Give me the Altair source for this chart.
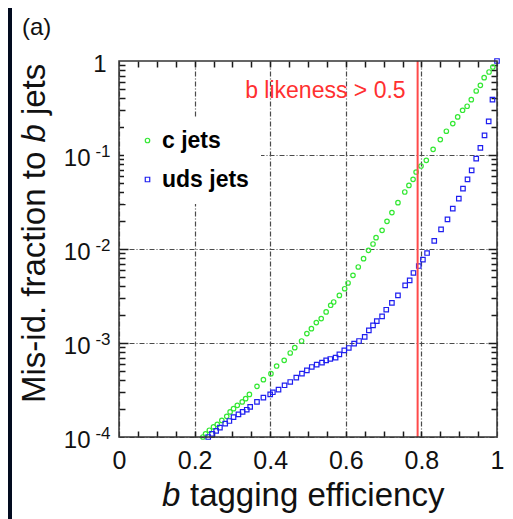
import altair as alt
import pandas as pd

# ---------------- data ----------------
c_eff = [0.222, 0.229, 0.239, 0.250, 0.260, 0.272, 0.285, 0.294, 0.303, 0.313,
         0.326, 0.335, 0.345, 0.365, 0.382, 0.402, 0.417, 0.437, 0.453, 0.465,
         0.483, 0.497, 0.509, 0.522, 0.535, 0.548, 0.560, 0.568, 0.583, 0.597,
         0.606, 0.619, 0.633, 0.647, 0.660, 0.672, 0.680, 0.696, 0.709, 0.722,
         0.738, 0.756, 0.767, 0.778, 0.786, 0.799, 0.813, 0.831, 0.850, 0.866,
         0.883, 0.896, 0.909, 0.921, 0.932, 0.945, 0.956, 0.966, 0.979, 0.989]
c_mis = [0.0001, 0.000108, 0.000118, 0.000128, 0.000136, 0.00015, 0.000166, 0.000185, 0.0002, 0.000217,
         0.000236, 0.000256, 0.000284, 0.000346, 0.000407, 0.000472, 0.000569, 0.000654, 0.000783, 0.000892,
         0.00105, 0.00126, 0.00142, 0.00165, 0.00182, 0.00214, 0.00252, 0.00273, 0.00321, 0.00378,
         0.00435, 0.00525, 0.00644, 0.00789, 0.00968, 0.0113, 0.0132, 0.0158, 0.0197, 0.0244,
         0.0311, 0.0404, 0.0475, 0.0551, 0.0659, 0.0764, 0.0878, 0.115, 0.146, 0.179,
         0.216, 0.254, 0.299, 0.33, 0.388, 0.48, 0.551, 0.665, 0.764, 0.863]

uds_eff = [0.236, 0.246, 0.257, 0.267, 0.281, 0.292, 0.303, 0.316, 0.327, 0.338,
           0.347, 0.365, 0.382, 0.400, 0.407, 0.422, 0.438, 0.453, 0.469, 0.484,
           0.497, 0.510, 0.523, 0.537, 0.548, 0.559, 0.573, 0.583, 0.596, 0.608,
           0.622, 0.635, 0.650, 0.661, 0.672, 0.682, 0.696, 0.707, 0.722, 0.738,
           0.757, 0.769, 0.779, 0.793, 0.804, 0.815, 0.834, 0.852, 0.869, 0.883,
           0.899, 0.910, 0.922, 0.933, 0.945, 0.956, 0.967, 0.978, 0.988, 1.0]
uds_mis = [0.0001, 0.000108, 0.000116, 0.000126, 0.000139, 0.000148, 0.000163, 0.000174, 0.000185, 0.000195,
           0.000209, 0.000236, 0.000262, 0.000284, 0.000299, 0.000319, 0.000355, 0.000385, 0.000428, 0.000472,
           0.000512, 0.000556, 0.000589, 0.000618, 0.000654, 0.000676, 0.000698, 0.000757, 0.000836, 0.000885,
           0.000984, 0.00105, 0.00116, 0.00136, 0.00154, 0.00171, 0.00192, 0.00226, 0.00267, 0.00321,
           0.00411, 0.00464, 0.00556, 0.00659, 0.0077, 0.00906, 0.0122, 0.0162, 0.0207, 0.0269,
           0.0343, 0.0438, 0.0551, 0.0687, 0.0914, 0.119, 0.162, 0.228, 0.388, 1.0]

series_names = ["c jets", "uds jets"]
series_colors = ["#33e833", "#1f1ff0"]
series_shapes = ["circle", "square"]

cut_eff = [0.79]
cut_label = ["b likeness > 0.5"]
panel_label = ["(a)"]

x_major = [0, 0.2, 0.4, 0.6, 0.8, 1]
x_minor = [round(i * 0.05, 2) for i in range(1, 20)]
y_decades = [0.1, 0.01, 0.001]
y_minor = [k * 10.0 ** e for e in (-4, -3, -2, -1) for k in range(2, 10)]

# ---------------- layout constants ----------------
W, H = 378, 376
FONT = "Liberation Sans"
INK = "#111111"
GRID = "#4a4a4a"
TICK = "#1a1a1a"

df = pd.DataFrame({
    "eff": c_eff + uds_eff,
    "mis": c_mis + uds_mis,
    "series": [series_names[0]] * len(c_eff) + [series_names[1]] * len(uds_eff),
})
df_c = df[df.series == series_names[0]]

xs = alt.Scale(domain=[0, 1], nice=False, zero=False)
ys = alt.Scale(type="log", domain=[0.0001, 1], nice=False)

ax_x_labels = alt.Axis(orient="bottom", values=x_major, format="~g", labelFontSize=25,
                       labelFont=FONT, labelColor=INK, labelPadding=11, labelBaseline="top",
                       labelFlush=False, labelOverlap=False, ticks=False, tickSize=0,
                       domain=False, grid=True, gridColor=GRID, gridDash=[5, 2, 1, 2],
                       gridWidth=1.2, title=None)
ax_y_exp = alt.Axis(orient="left", values=[0.1, 0.01, 0.001, 0.0001],
                    labelExpr="'-' + format(round(-log(datum.value) / LN10), 'd')",
                    labelFontSize=17, labelFont=FONT, labelColor=INK, labelPadding=9,
                    labelOffset=-4, labelBaseline="middle", labelAlign="right",
                    labelOverlap=False, labelFlush=False, ticks=False, tickSize=0,
                    domain=False, grid=True, gridColor=GRID, gridDash=[5, 2, 1, 2],
                    gridWidth=1.2, title=None)
ax_y_ten = alt.Axis(orient="left", values=[0.1, 0.01, 0.001, 0.0001], labelExpr="'10'",
                    labelFontSize=24, labelFont=FONT, labelColor=INK, labelPadding=29,
                    labelOffset=3, labelBaseline="middle", labelAlign="right",
                    labelOverlap=False, labelFlush=False, ticks=False, tickSize=0,
                    domain=False, grid=False, title=None)
ax_y_one = alt.Axis(orient="left", values=[1], labelExpr="'1'",
                    labelFontSize=24, labelFont=FONT, labelColor=INK, labelPadding=13,
                    labelOffset=3, labelBaseline="middle", labelAlign="right",
                    labelOverlap=False, labelFlush=False, ticks=False, tickSize=0,
                    domain=False, grid=False, title=None)


def tick_axis(orient, values, length):
    # inward ticks drawn as the first few pixels of a dashed grid line that
    # starts at the axis edge
    return alt.Axis(orient=orient, values=values, labels=False, ticks=False, domain=False,
                    grid=True, gridColor=TICK, gridWidth=1.5, gridDash=[length, 3000],
                    gridOpacity=1, title=None)


legend_kw = dict(title=None, orient="none", legendX=5, legendY=56, fillColor="white",
                 padding=12, labelFont=FONT, labelFontSize=23, labelFontWeight="bold",
                 labelColor="black", symbolSize=20, symbolStrokeWidth=1.2,
                 rowPadding=15, labelOffset=3)

points = alt.Chart(df).mark_point(filled=False, size=20, strokeWidth=1.2, opacity=1).encode(
    x=alt.X("eff:Q", scale=xs, axis=ax_x_labels),
    y=alt.Y("mis:Q", scale=ys, axis=ax_y_exp),
    color=alt.Color("series:N", scale=alt.Scale(domain=series_names, range=series_colors),
                    legend=alt.Legend(**legend_kw)),
    shape=alt.Shape("series:N", scale=alt.Scale(domain=series_names, range=series_shapes),
                    legend=alt.Legend(**legend_kw)),
)


def ghost(xaxis, yaxis):
    return alt.Chart(df_c).mark_point(opacity=0, size=1).encode(
        x=alt.X("eff:Q", scale=xs, axis=xaxis),
        y=alt.Y("mis:Q", scale=ys, axis=yaxis))


def label(text, x, y, size, angle=0, style="normal"):
    return alt.Chart(pd.DataFrame({"t": [text]})).mark_text(
        font=FONT, fontSize=size, color=INK, align="left", baseline="alphabetic",
        angle=angle, fontStyle=style).encode(
        x=alt.value(x), y=alt.value(y), text="t:N")


cut_rule = alt.Chart(pd.DataFrame({"cut": cut_eff})).mark_rule(
    color="#ff4a4a", strokeWidth=2).encode(x=alt.X("cut:Q", scale=xs, axis=None))

cut_text = alt.Chart(pd.DataFrame({"cut": cut_eff, "t": cut_label})).mark_text(
    font=FONT, fontSize=23, color="#ff3030", align="right", baseline="alphabetic",
    dx=-12).encode(x=alt.X("cut:Q", scale=xs, axis=None), y=alt.value(36.7), text="t:N")

strip = alt.Chart(pd.DataFrame({"k": [0]})).mark_rect(color="#020b1f").encode(
    x=alt.value(-111), x2=alt.value(-107), y=alt.value(-53), y2=alt.value(H + 82))

frame = alt.Chart(pd.DataFrame({"k": [0]})).mark_rect(
    fill=None, stroke="#333333", strokeWidth=1.5, filled=False).encode(
    x=alt.value(0), x2=alt.value(W), y=alt.value(0), y2=alt.value(H))

titles = [
    label(panel_label[0], -97, -26, 24),
    label("Mis-id. fraction to", -74, 342, 33, angle=270),
    label("b", -74, 81.6, 33, angle=270, style="italic"),
    label("jets", -74, 54.1, 33, angle=270),
    label("b", 43, 445, 33, style="italic"),
    label("tagging efficiency", 71, 445, 33),
]

chart = alt.layer(
    points,
    cut_rule,
    cut_text,
    ghost(tick_axis("bottom", x_minor, 6), ax_y_ten),
    ghost(tick_axis("top", x_minor, 6), ax_y_one),
    ghost(None, tick_axis("left", y_minor, 6)),
    ghost(None, tick_axis("right", y_minor, 6)),
    ghost(None, tick_axis("left", y_decades, 9)),
    ghost(None, tick_axis("right", y_decades, 9)),
    strip,
    frame,
    *titles,
).resolve_axis(x="independent", y="independent").properties(
    width=W, height=H,
    autosize=alt.AutoSizeParams(type="none"),
    padding={"left": 111, "top": 53, "right": 8, "bottom": 82},
    background="white",
).configure_view(stroke=None)

chart.save("out.html", embed_options={"renderer": "svg", "actions": False})
